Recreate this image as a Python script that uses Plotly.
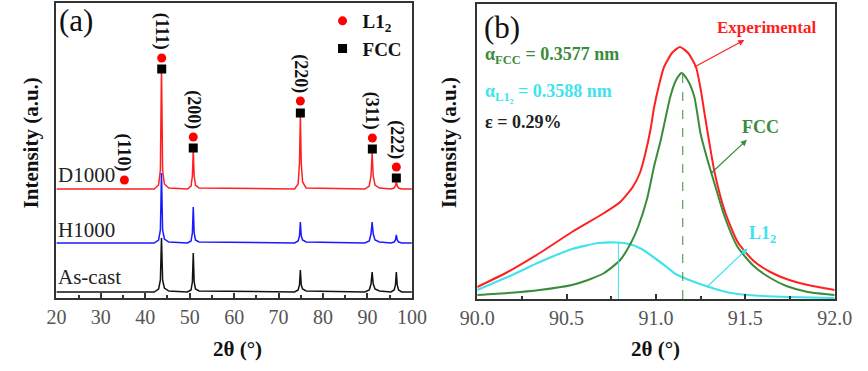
import plotly.graph_objects as go

FONT = "Liberation Serif, Times New Roman, Tinos, DejaVu Serif, serif"
W, H = 868, 371

# ---------------- Panel (a): XRD patterns ----------------
two_theta_a = [20, 42.0, 43.0, 43.4, 43.65, 43.9, 44.3, 45.3,
               49.5, 50.3, 50.6, 50.8, 51.0, 51.3, 52.1,
               73.6, 74.4, 74.7, 74.9, 75.1, 75.4, 76.2,
               89.4, 90.4, 90.8, 91.05, 91.3, 91.7, 92.7,
               95.3, 96.0, 96.3, 96.5, 96.7, 97.0, 97.7, 100]
d1000 = [109, 109, 113, 128, 232, 128, 114, 110,
         109, 112, 122, 148, 122, 113, 110,
         109, 114, 135, 182, 135, 116, 110,
         109, 112, 122, 145, 122, 113, 110,
         109, 110, 112, 116, 112, 110, 109, 109]
h1000 = [55, 55, 58, 68, 125, 68, 59, 56,
         55, 57, 65, 91, 65, 58, 56,
         55, 57, 62, 76, 62, 58, 56,
         55, 57, 64, 76, 64, 58, 56,
         55, 56, 58, 63, 58, 56, 55, 55]
as_cast = [6, 6, 9, 18, 60, 18, 10, 7,
           6, 8, 16, 45, 16, 9, 7,
           6, 8, 13, 28, 13, 9, 7,
           6, 8, 14, 26, 14, 9, 7,
           6, 8, 13, 26, 13, 8, 6, 6]

l12_pos = [35.3, 43.7, 50.8, 74.9, 91.1, 96.5]
l12_mark = [118, 240, 161, 197, 160, 131]
fcc_pos = [43.7, 50.8, 74.9, 91.1, 96.5]
fcc_mark = [229, 150, 185, 149, 120]
hkl_labels = ["(110)", "(111)", "(200)", "(220)", "(311)", "(222)"]
sample_names = ["D1000", "H1000", "As-cast"]
ticks_a = [20, 30, 40, 50, 60, 70, 80, 90, 100]

# ---------------- Panel (b): peak fitting ----------------
tt_exp = [90.0, 90.17, 90.35, 90.53, 90.71, 90.8, 90.87, 90.91, 90.94, 90.97,
          90.99, 91.02, 91.045, 91.09, 91.134, 91.18, 91.224, 91.25, 91.275, 91.3,
          91.33, 91.385, 91.457, 91.547, 91.64, 91.73, 91.85, 92.0]
int_exp = [12, 27, 46, 67, 86, 97, 112, 126, 145, 170,
           192, 216, 232, 246, 252, 246, 232, 210, 182, 155,
           125, 88, 57, 38, 27, 20, 14, 9]
tt_fcc = [90.0, 90.17, 90.35, 90.53, 90.62, 90.71, 90.8, 90.86, 90.9, 90.95,
          90.99, 91.027, 91.08, 91.11, 91.143, 91.18, 91.215, 91.25, 91.287, 91.33,
          91.385, 91.457, 91.547, 91.64, 91.73, 91.85, 92.0]
int_fcc = [4, 6, 9, 14, 19, 26, 39, 56, 72, 100,
           133, 159, 202, 218, 226, 218, 202, 165, 140, 114,
           82, 52, 33, 21, 13, 7, 4]
tt_l12 = [90.0, 90.17, 90.35, 90.53, 90.68, 90.78, 90.85, 90.92, 91.0, 91.06,
          91.11, 91.2, 91.28, 91.37, 91.46, 91.6, 91.75, 92.0]
int_l12 = [9, 22, 37, 50, 56, 56.5, 55, 50, 40, 32,
           25, 18, 13, 8, 5, 3, 2, 1]
fcc_peak = (91.15, 226)
l12_peak = (90.79, 56.5)
ticks_b = [90.0, 90.5, 91.0, 91.5, 92.0]

RED = "#ff2020"
BLUE = "#1a1aff"
BLACK = "#111111"
GREEN = "#3a8c3a"
CYAN = "#3fe3ee"
FRAME = "#333333"
TICKC = "#555555"

fig = go.Figure()

# panel (a) traces
fig.add_trace(go.Scatter(x=two_theta_a, y=d1000, mode="lines", line=dict(color=RED, width=1.5),
                         showlegend=False, xaxis="x", yaxis="y"))
fig.add_trace(go.Scatter(x=two_theta_a, y=h1000, mode="lines", line=dict(color=BLUE, width=1.5),
                         showlegend=False, xaxis="x", yaxis="y"))
fig.add_trace(go.Scatter(x=two_theta_a, y=as_cast, mode="lines", line=dict(color=BLACK, width=1.5),
                         showlegend=False, xaxis="x", yaxis="y"))
fig.add_trace(go.Scatter(x=l12_pos, y=l12_mark, mode="markers", name="L1<sub>2</sub>",
                         marker=dict(symbol="circle", size=9, color="#ff0000"),
                         xaxis="x", yaxis="y"))
fig.add_trace(go.Scatter(x=fcc_pos, y=fcc_mark, mode="markers", name="FCC",
                         marker=dict(symbol="square", size=9, color="#000000"),
                         xaxis="x", yaxis="y"))

# panel (b) traces
fig.add_trace(go.Scatter(x=tt_exp, y=int_exp, mode="lines",
                         line=dict(color=RED, width=2, shape="spline", smoothing=0.6),
                         showlegend=False, xaxis="x2", yaxis="y2"))
fig.add_trace(go.Scatter(x=tt_l12, y=int_l12, mode="lines",
                         line=dict(color=CYAN, width=2.2, shape="spline", smoothing=0.6),
                         showlegend=False, xaxis="x2", yaxis="y2"))
fig.add_trace(go.Scatter(x=tt_fcc, y=int_fcc, mode="lines",
                         line=dict(color=GREEN, width=2, shape="spline", smoothing=0.6),
                         showlegend=False, xaxis="x2", yaxis="y2"))
fig.add_trace(go.Scatter(x=[fcc_peak[0], fcc_peak[0]], y=[0, fcc_peak[1]], mode="lines",
                         line=dict(color=GREEN, width=1, dash="dash"), showlegend=False,
                         xaxis="x2", yaxis="y2"))
fig.add_trace(go.Scatter(x=[l12_peak[0], l12_peak[0]], y=[0, l12_peak[1]], mode="lines",
                         line=dict(color=CYAN, width=1), showlegend=False, xaxis="x2", yaxis="y2"))


def px(x):
    return x / W


def py(y):
    return 1 - y / H


axis_common = dict(showline=True, mirror=True, linecolor=FRAME, linewidth=2, showgrid=False,
                   zeroline=False)

fig.update_layout(
    width=W, height=H, margin=dict(l=0, r=0, t=0, b=0),
    paper_bgcolor="white", plot_bgcolor="white",
    font=dict(family=FONT, color="#222"),
    xaxis=dict(domain=[px(41), px(411)], range=[20, 100], tickvals=ticks_a,
               ticks="inside", ticklen=5, tickwidth=1.5, tickcolor=FRAME,
               minor=dict(ticks="inside", ticklen=3, dtick=5, tickcolor=FRAME),
               tickfont=dict(family=FONT, size=20, color=TICKC), anchor="y", **axis_common),
    yaxis=dict(domain=[py(298), py(3)], range=[0, 295], showticklabels=False, ticks="",
               anchor="x", **axis_common),
    xaxis2=dict(domain=[px(479), px(851)], range=[90, 92], tickvals=ticks_b,
                ticktext=["90.0", "90.5", "91.0", "91.5", "92.0"],
                ticks="inside", ticklen=5, tickwidth=1.5, tickcolor=FRAME,
                minor=dict(ticks="inside", ticklen=3, dtick=0.25, tickcolor=FRAME),
                tickfont=dict(family=FONT, size=20, color=TICKC), anchor="y2", **axis_common),
    yaxis2=dict(domain=[py(299), py(4)], range=[0, 295], showticklabels=False, ticks="",
                anchor="x2", **axis_common),
    legend=dict(x=px(318), y=py(2), xanchor="left", yanchor="top", bgcolor="rgba(0,0,0,0)",
                font=dict(family=FONT, size=19, color="#111", weight="bold"), tracegroupgap=0,
                itemwidth=30),
)

ann = []
# hkl labels above the markers
for xp, yp, lab in zip(l12_pos, l12_mark, hkl_labels):
    ann.append(dict(x=xp, y=yp, xref="x", yref="y", text=lab, showarrow=False, textangle=90,
                    yanchor="bottom", xanchor="center", yshift=6,
                    font=dict(family=FONT, size=18, color="#111", weight="bold")))
# sample names
for name, ypos in zip(sample_names, [175, 230, 277]):
    ann.append(dict(x=px(41), y=py(ypos), xref="paper", yref="paper", text=name, showarrow=False,
                    xanchor="left", yanchor="middle", font=dict(family=FONT, size=21, color="#222")))
# panel letters
ann.append(dict(x=px(61), y=py(21), xref="paper", yref="paper", text="(a)", showarrow=False,
                font=dict(family=FONT, size=31, color="#111"), xanchor="center", yanchor="middle"))
ann.append(dict(x=px(505), y=py(28), xref="paper", yref="paper", text="(b)", showarrow=False,
                font=dict(family=FONT, size=31, color="#111"), xanchor="center", yanchor="middle"))
# axis titles
for xc in [229, 665]:
    ann.append(dict(x=px(xc), y=py(349), xref="paper", yref="paper", text="2θ (°)", showarrow=False,
                    font=dict(family=FONT, size=21, color="#111", weight="bold"),
                    xanchor="center", yanchor="middle"))
for xc in [15, 450]:
    ann.append(dict(x=px(xc), y=py(143), xref="paper", yref="paper", text="Intensity (a.u.)",
                    showarrow=False, textangle=-90,
                    font=dict(family=FONT, size=21, color="#111", weight="bold"),
                    xanchor="center", yanchor="middle"))
# panel (b) texts
ann.append(dict(x=px(485), y=py(56), xref="paper", yref="paper", text="α<sub>FCC</sub> = 0.3577 nm",
                showarrow=False, xanchor="left", yanchor="middle",
                font=dict(family=FONT, size=18, color=GREEN, weight="bold")))
ann.append(dict(x=px(485), y=py(92), xref="paper", yref="paper", text="α<sub>L1₂</sub> = 0.3588 nm",
                showarrow=False, xanchor="left", yanchor="middle",
                font=dict(family=FONT, size=18, color=CYAN, weight="bold")))
ann.append(dict(x=px(485), y=py(122), xref="paper", yref="paper", text="ε = 0.29%",
                showarrow=False, xanchor="left", yanchor="middle",
                font=dict(family=FONT, size=18, color="#222", weight="bold")))
# curve labels with arrows (arrow head drawn at the label end)
for (label, tx, ty, cx, cy, col, fs) in [("Experimental", 91.618, 271, 91.215, 232, RED, 17),
                                         ("FCC", 91.586, 172, 91.31, 126, GREEN, 18),
                                         ("L1<sub>2</sub>", 91.597, 65, 91.285, 12, CYAN, 18)]:
    ann.append(dict(x=cx, y=cy, ax=tx, ay=ty, xref="x2", yref="y2", axref="x2", ayref="y2",
                    text=label, showarrow=True, arrowside="start", startarrowhead=2,
                    startarrowsize=1, arrowwidth=1.2, arrowcolor=col, startstandoff=2,
                    font=dict(family=FONT, size=fs, color=col, weight="bold")))

fig.update_layout(annotations=ann)
fig.write_html("out.html", config={"displayModeBar": False},
               post_script="document.body.style.margin='0px';")
